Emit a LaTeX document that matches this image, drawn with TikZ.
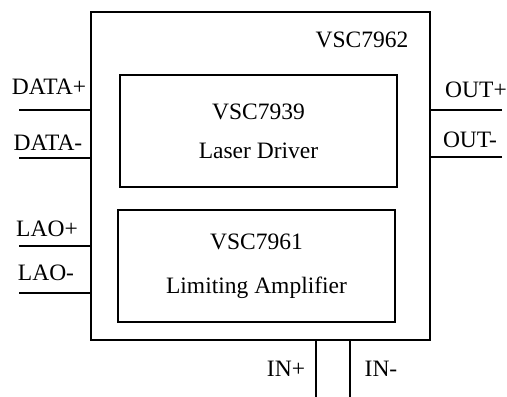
\documentclass[tikz,border=0pt]{standalone}
\usepackage{fontspec}
\setmainfont{Liberation Serif}
\usetikzlibrary{positioning}

\begin{document}
\begin{tikzpicture}[x=1pt, y=-1pt, line width=2.6pt,
  every node/.style={font=\fontsize{23.5}{28}\selectfont},
  block/.style={draw, line width=2.6pt, inner sep=0pt, align=center}]
\useasboundingbox (0,0) rectangle (507,397);

%chip
\node[block, minimum width=339pt, minimum height=328pt] (chip) at (260.5,176) {};
\node (chipname) at (362,40) {VSC7962};

%blocks
\node[block, minimum width=277pt, minimum height=112pt] (driver) at (258.5,131) {VSC7939\\[11pt]Laser Driver};
\node[block, minimum width=277pt, minimum height=112pt] (amp) at (256.5,266) {VSC7961\\[16pt]Limiting Amplifier};

%pins
\coordinate (dp) at (19,110);
\coordinate (dm) at (19,158);
\coordinate (lp) at (19,246);
\coordinate (lm) at (19,293);
\coordinate (op) at (502,110);
\coordinate (om) at (502,157);
\coordinate (ip) at (316,397);
\coordinate (im) at (350,397);
\draw (dp) -- (dp -| chip.west);
\draw (dm) -- (dm -| chip.west);
\draw (lp) -- (lp -| chip.west);
\draw (lm) -- (lm -| chip.west);
\draw (op) -- (op -| chip.east);
\draw (om) -- (om -| chip.east);
\draw (ip) -- (ip |- chip.south);
\draw (im) -- (im |- chip.south);

\node (dplabel) at (49,87) {DATA+};
\node (dmlabel) at (48,143) {DATA-};
\node (lplabel) at (47,229) {LAO+};
\node (lmlabel) at (46,273) {LAO-};
\node (oplabel) at (476,90) {OUT+};
\node (omlabel) at (470,140) {OUT-};
\node (iplabel) at (286,369) {IN+};
\node (imlabel) at (381,369) {IN-};

\end{tikzpicture}
\end{document}
